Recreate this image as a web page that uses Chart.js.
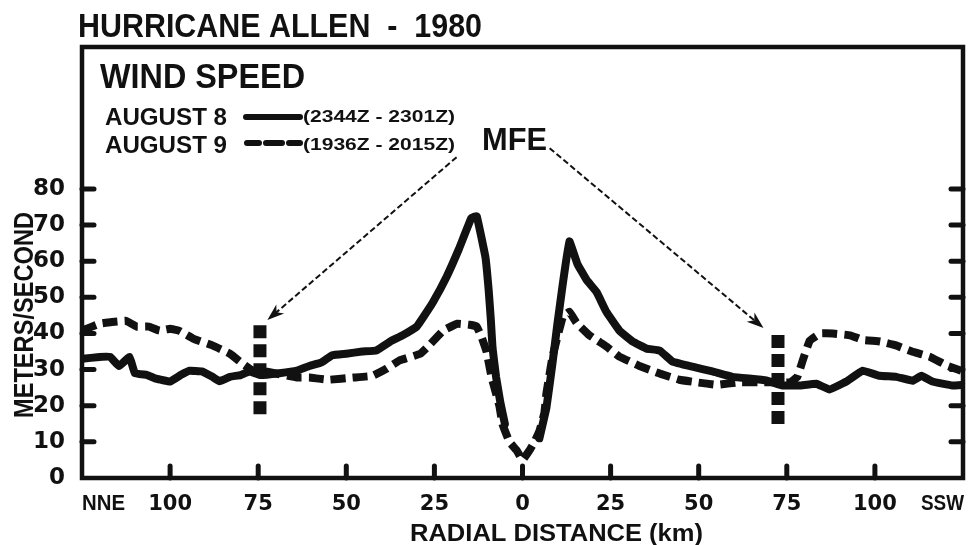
<!DOCTYPE html>
<html>
<head>
<meta charset="utf-8">
<script src="https://cdn.jsdelivr.net/npm/chart.js@4.4.0/dist/chart.umd.min.js"></script>
<style>
  html, body { margin: 0; padding: 0; background: #fff; }
  #wrap { width: 970px; height: 545px; position: relative; }
</style>
</head>
<body>
<div id="wrap"><canvas id="chart"></canvas></div>
<script>
// radial distance in km (negative = NNE side) and wind speed in m/s
const distAug8 = [-125,-120,-117,-114.5,-111.5,-110,-106.5,-104,-100,-97,
  -94.5,-91,-88,-86,-83,-80,-77.5,-74.5,-69,-64,
  -60.5,-57,-54,-50,-45.5,-41.5,-37.5,-34,-30,-28.5,
  -25.5,-21.5,-18,-14.5,-13,-10.5,-9.6,-9,-8.5,-7.5,
  -6.3,-5,0,4.8,6.8,8.5,9.9,11.4,13.3,15.6,
  18.2,21,23.8,27.5,31.2,35.2,38.9,42.6,48.2,53.9,
  59.6,69.2,73.8,78.6,83.4,87.1,91.9,96.5,101.3,106.1,
  110.7,113.2,116.3,122,125];
const speedAug8 = [33,33.5,33.5,31,33.5,29,28.5,27.5,26.7,28.5,
  29.7,29.5,28,26.8,28,28.5,29.5,28.5,29,29.7,
  31,32,34,34.4,35,35.3,37.8,39.5,41.9,44,
  48.5,55.8,63.5,72,72.5,61,52,44,36,28,
  21,15,null,11,19.5,31.7,42.6,53.5,65.5,59.2,
  54.8,51.5,46,40.8,37.8,35.8,35.3,32.2,30.8,29.5,
  28,27,25.6,25.6,26.1,24.5,26.7,29.7,28.3,28,
  26.9,28.3,26.7,25.6,25.8];

const distAug9 = [-125,-120,-116.5,-112.5,-109.5,-106,-103,-100,-97.5,-93.5,
  -88,-83,-79.5,-76.5,-72.5,-64,-60.5,-55,-48,-42.5,
  -38.5,-35,-29,-26.5,-22.5,-18.5,-15,-13,-11.6,-10.2,
  -8.8,-7.4,-6.5,-5.7,-3.7,-1.7,0,2,3.4,4.8,
  6.2,6.8,8.5,11.4,13.3,15.3,19,23.8,27.5,33,
  39,44.5,50,55,61.5,70,76,78,79.5,81.5,
  84.5,88,93,96.5,101.5,106,110.5,115.5,120.5,124.5];
const speedAug9 = [40.8,42.7,43.2,43.5,41.9,41.9,40.8,41.3,40.8,38.6,
  36.7,34.4,31.7,29.7,29.4,27.8,27.8,27.2,27.8,28.3,
  30.3,32.5,34.4,36.7,40.8,42.7,42.4,41.9,39,35,
  28,23,19.7,15,10,7.7,5,7.7,10,13,
  18,23.5,33.5,44.5,46,43,39.5,36.4,33.6,31.1,
  28.9,27.2,26.4,25.8,26.5,26.5,26.5,28,32.5,38,
  40,40,39.5,38.2,37.8,36.7,35,33.6,31.1,29.7];

// heavy dashed bars marking the MFE radius on each side
const mfeDist = [-74.5, 72.5];
const mfeTop = [42.3, 39.6];
const mfeBottom = [16.9, 14.1];

const yTicks = [10, 20, 30, 40, 50, 60, 70, 80];
const xTicks = [-100, -75, -50, -25, 0, 25, 50, 75, 100];

const ink = '#111';
const face = '"Liberation Sans", Arial, sans-serif';

function fitText(ctx, str, x, y, w, font) {
  ctx.save();
  ctx.font = font;
  const m = ctx.measureText(str).width;
  ctx.translate(x, y);
  ctx.scale(w / m, 1);
  ctx.fillText(str, 0, 0);
  ctx.restore();
}

// frame, inner tick marks, MFE arrows and all the lettering of the figure
const decor = {
  id: 'decor',
  afterDatasetsDraw(chart) {
    const { ctx, chartArea: a, scales: { x, y } } = chart;
    ctx.save();
    ctx.strokeStyle = ink;
    ctx.fillStyle = ink;

    ctx.lineWidth = 4.5;
    ctx.strokeRect(a.left, a.top, a.right - a.left, a.bottom - a.top);

    ctx.lineWidth = 5;
    ctx.lineCap = 'round';
    ctx.beginPath();
    yTicks.forEach(v => {
      const py = y.getPixelForValue(v);
      ctx.moveTo(a.left, py); ctx.lineTo(a.left + 12, py);
      ctx.moveTo(a.right, py); ctx.lineTo(a.right - 12, py);
    });
    xTicks.forEach(v => {
      const px = x.getPixelForValue(v);
      ctx.moveTo(px, a.bottom); ctx.lineTo(px, a.bottom - 12);
    });
    ctx.stroke();

    // MFE arrows (data coords)
    const arrows = [[[-18.7, 88.8], [-72.4, 43.7]], [[7.7, 91.3], [68.4, 41.5]]];
    arrows.forEach(([from, to]) => {
      const x0 = x.getPixelForValue(from[0]), y0 = y.getPixelForValue(from[1]);
      const x1 = x.getPixelForValue(to[0]), y1 = y.getPixelForValue(to[1]);
      const ang = Math.atan2(y1 - y0, x1 - x0);
      ctx.lineWidth = 2;
      ctx.lineCap = 'butt';
      ctx.setLineDash([6, 3]);
      ctx.beginPath();
      ctx.moveTo(x0, y0);
      ctx.lineTo(x1 - 8 * Math.cos(ang), y1 - 8 * Math.sin(ang));
      ctx.stroke();
      ctx.setLineDash([]);
      ctx.beginPath();
      ctx.moveTo(x1, y1);
      ctx.lineTo(x1 - 17 * Math.cos(ang) + 6 * Math.sin(ang), y1 - 17 * Math.sin(ang) - 6 * Math.cos(ang));
      ctx.lineTo(x1 - 12 * Math.cos(ang), y1 - 12 * Math.sin(ang));
      ctx.lineTo(x1 - 17 * Math.cos(ang) - 6 * Math.sin(ang), y1 - 17 * Math.sin(ang) + 6 * Math.cos(ang));
      ctx.closePath();
      ctx.fill();
    });

    ctx.textBaseline = 'alphabetic';
    ctx.textAlign = 'left';
    fitText(ctx, 'HURRICANE ALLEN  -  1980', 78, 37, 404, 'bold 34px ' + face);
    fitText(ctx, 'WIND SPEED', 100, 88, 205, 'bold 35px ' + face);
    fitText(ctx, 'AUGUST 8', 105, 125, 122, 'bold 24px ' + face);
    fitText(ctx, 'AUGUST 9', 105, 153, 122, 'bold 24px ' + face);
    fitText(ctx, '(2344Z - 2301Z)', 303, 122, 152, 'bold 16px ' + face);
    fitText(ctx, '(1936Z - 2015Z)', 303, 150, 152, 'bold 16px ' + face);
    fitText(ctx, 'MFE', 482, 150, 65, 'bold 31px ' + face);
    fitText(ctx, 'NNE', 82, 510, 43, 'bold 22px ' + face);
    fitText(ctx, 'SSW', 921, 510, 43, 'bold 22px ' + face);
    fitText(ctx, 'RADIAL DISTANCE (km)', 410, 541, 293, 'bold 24px ' + face);
    ctx.save();
    ctx.translate(33, 418);
    ctx.rotate(-Math.PI / 2);
    fitText(ctx, 'METERS/SECOND', 0, 0, 206, 'bold 28px ' + face);
    ctx.restore();

    // legend samples
    ctx.lineWidth = 6;
    ctx.lineCap = 'round';
    ctx.beginPath();
    ctx.moveTo(246, 117); ctx.lineTo(300, 117);
    ctx.stroke();
    ctx.beginPath();
    [[247, 259], [266, 282], [289, 300]].forEach(([s, e]) => { ctx.moveTo(s, 143); ctx.lineTo(e, 143); });
    ctx.stroke();
    ctx.restore();
  }
};

const lineStyle = { borderColor: ink, borderWidth: 8, pointRadius: 0, tension: 0.08, spanGaps: false, borderJoinStyle: 'round' };

new Chart(document.getElementById('chart'), {
  type: 'line',
  data: {
    datasets: [
      { label: 'August 8', data: distAug8.map((d, i) => ({ x: d, y: speedAug8[i] })), ...lineStyle, borderCapStyle: 'round' },
      { label: 'August 9', data: distAug9.map((d, i) => ({ x: d, y: speedAug9[i] })), ...lineStyle, borderDash: [15, 7], borderCapStyle: 'butt' },
      ...mfeDist.map((d, i) => ({
        label: 'MFE', data: [{ x: d, y: mfeTop[i] }, { x: d, y: mfeBottom[i] }],
        borderColor: ink, borderWidth: 13, borderDash: [13, 6], borderCapStyle: 'butt', pointRadius: 0
      }))
    ]
  },
  options: {
    responsive: true,
    maintainAspectRatio: false,
    animation: false,
    layout: { padding: { top: 47, right: 7, bottom: 0, left: 0 } },
    plugins: { legend: { display: false }, tooltip: { enabled: false } },
    scales: {
      x: {
        type: 'linear', min: -125, max: 125,
        afterFit: s => { s.height = 67; },
        grid: { display: false }, border: { display: false },
        ticks: {
          stepSize: 25, autoSkip: false, maxRotation: 0, padding: 6, color: ink,
          font: { family: 'DejaVu Sans', weight: 'bold', size: 21 },
          callback: v => Math.abs(v) === 125 ? '' : String(Math.abs(v))
        }
      },
      y: {
        min: 0, max: 119.3,
        afterFit: s => { s.width = 82; },
        grid: { display: false }, border: { display: false },
        ticks: {
          stepSize: 10, autoSkip: false, padding: 9, color: ink,
          font: { family: 'DejaVu Sans', weight: 'bold', size: 23 },
          callback: v => v <= 80 ? String(v) : ''
        }
      }
    }
  },
  plugins: [decor]
});
</script>
</body>
</html>
